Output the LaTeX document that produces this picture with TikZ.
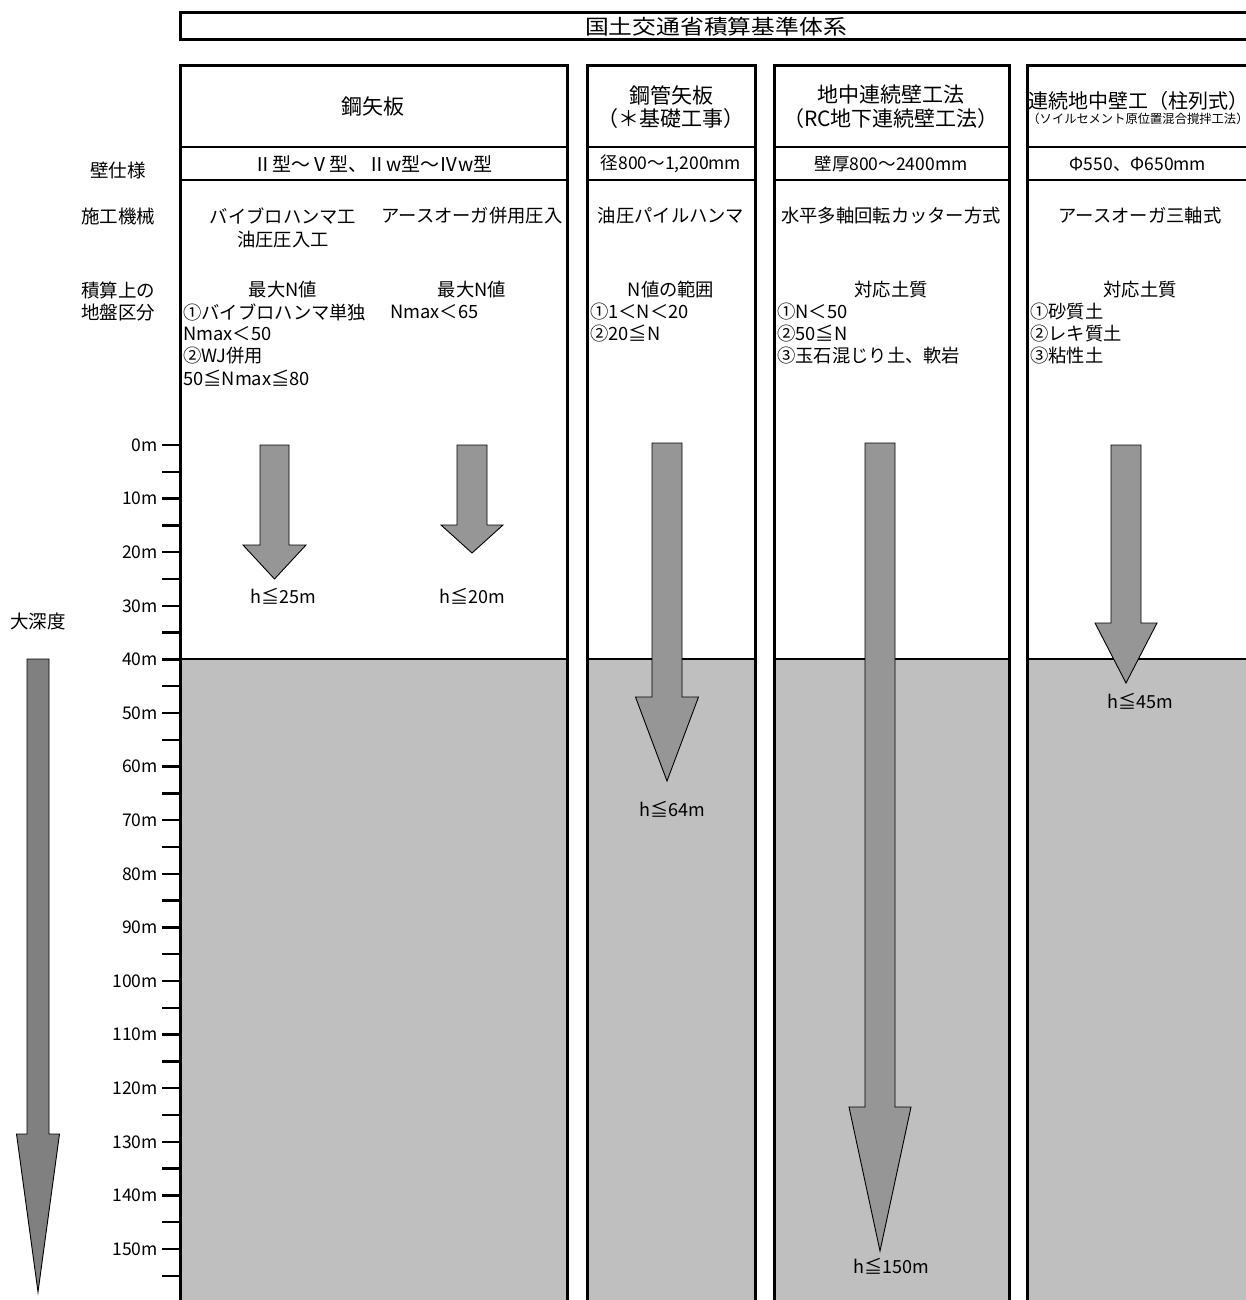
\documentclass[tikz,border=0pt]{standalone}
\usepackage{fontspec}
\usepackage{graphicx}
\setmainfont{Noto Sans CJK JP}
\begin{document}
\begin{tikzpicture}[x=1pt,y=-1pt,
  frame/.style={draw=black,line width=3pt},
  divider/.style={draw=black,line width=2.5pt},
  soil/.style={fill=black!25},
  arr/.style={fill=black!41,draw=black,line width=0.9pt,line join=miter},
  bigarr/.style={fill=black!50,draw=black,line width=0.9pt,line join=miter},
  hdr/.style={inner sep=0pt,font=\fontsize{21}{25}\selectfont},
  sub/.style={inner sep=0pt,font=\fontsize{12.3}{14}\selectfont},
  spec/.style={inner sep=0pt,font=\fontsize{17.5}{21}\selectfont},
  rowlbl/.style={inner sep=0pt,font=\fontsize{18.5}{22}\selectfont},
  body/.style={inner sep=0pt,font=\fontsize{18.3}{22}\selectfont},
  bodyl/.style={body,anchor=west},
  hlab/.style={inner sep=0pt,font=\fontsize{18}{21}\selectfont},
  dep/.style={inner sep=0pt,anchor=east,font=\fontsize{17.5}{20}\selectfont},
  tick/.style={draw=black,line width=2.5pt}]
\useasboundingbox (0,0) rectangle (1246,1300);
\begin{scope}
\clip (0,0) rectangle (1246,1300);
% soil below 40 m
\fill[soil] (180,659) rectangle (567,1310);
\fill[soil] (587,659) rectangle (755,1310);
\fill[soil] (774,659) rectangle (1009,1310);
\fill[soil] (1027,659) rectangle (1260,1310);
% 40 m line
\draw[divider] (180,659) -- (567,659);
\draw[divider] (587,659) -- (755,659);
\draw[divider] (774,659) -- (1009,659);
\draw[divider] (1027,659) -- (1260,659);
% title box
\draw[frame] (180,13) rectangle (1270,40);
\node[inner sep=0pt,font=\fontsize{20.5}{24}\selectfont] (title) at (716,27) {\scalebox{1.16}[1]{国土交通省積算基準体系}};
% columns
\draw[frame] (180,1320) -- (180,66) -- (567,66) -- (567,1320);
\draw[frame] (587,1320) -- (587,66) -- (755,66) -- (755,1320);
\draw[frame] (774,1320) -- (774,66) -- (1009,66) -- (1009,1320);
\draw[frame] (1027,1320) -- (1027,66) -- (1270,66);
\foreach \a/\b in {180/567,587/755,774/1009,1027/1270}{
  \draw[divider] (\a,147) -- (\b,147);
  \draw[divider] (\a,180) -- (\b,180);
}
% depth scale ticks
\foreach \k in {0,...,31}{
  \draw[tick] (162,445+\k*26.8) -- (180,445+\k*26.8);
}
\foreach \d [count=\i from 0] in {0,10,20,30,40,50,60,70,80,90,100,110,120,130,140,150}{
  \node[dep] (d\i) at (158,445+\i*53.6) {\d m};
}
% arrows
\newcommand\colarrow[8]{% name, cx, top, shaft half, head y, head half, tip, style
  \draw[#8] (#2-#4,#3) -- (#2+#4,#3) -- (#2+#4,#5) -- (#2+#6,#5) -- (#2,#7)
     -- (#2-#6,#5) -- (#2-#4,#5) -- cycle;
  \coordinate (#1) at (#2,#7);}
\colarrow{a1}{274.5}{445}{14.5}{545}{31.5}{579}{arr}
\colarrow{a2}{472}{445}{15}{525}{31}{553}{arr}
\colarrow{a3}{667}{443}{15}{697}{31.5}{781}{arr}
\colarrow{a4}{880}{443}{15}{1107}{31}{1251}{arr}
\colarrow{a5}{1126}{445}{15}{623}{31}{683}{arr}
\colarrow{a6}{38}{659}{11}{1134}{21.5}{1292}{bigarr}
\end{scope}
% depth-limit labels
\node[hlab] (h1) at (283,596) {h≦25m};
\node[hlab] (h2) at (472,596) {h≦20m};
\node[hlab] (h3) at (672,809) {h≦64m};
\node[hlab] (h4) at (891,1266) {h≦150m};
\node[hlab] (h5) at (1140,701) {h≦45m};
\node[rowlbl] (deep) at (38,621) {大深度};
% row labels
\node[rowlbl] (r1) at (118,170) {壁仕様};
\node[rowlbl] (r2) at (118,216) {施工機械};
\node[rowlbl] (r3) at (118,290) {積算上の};
\node[rowlbl] (r4) at (118,312) {地盤区分};
% headers
\node[hdr] (c1h) at (373,106) {鋼矢板};
\node[hdr] (c2h1) at (671,95) {鋼管矢板};
\node[hdr] (c2h2) at (671,119) {（＊基礎工事）};
\node[hdr] (c3h1) at (891,95) {地中連続壁工法};
\node[hdr] (c3h2) at (891,119) {（RC地下連続壁工法）};
\node[hdr,font=\fontsize{20}{24}\selectfont] (c4h1) at (1138,101) {連続地中壁工（柱列式）};
\node[sub] (c4h2) at (1138,119) {（ソイルセメント原位置混合撹拌工法）};
% specs
\node[spec,font=\fontsize{19}{22}\selectfont] (s1) at (373,164) {Ⅱ型～Ⅴ型、Ⅱw型～Ⅳw型};
\node[spec] (s2) at (671,164) {径800～1,200mm};
\node[spec] (s3) at (891,164) {壁厚800～2400mm};
\node[spec] (s4) at (1138,164) {Φ550、Φ650mm};
% machines
\node[body] (m1a) at (283,216) {バイブロハンマ工};
\node[body] (m1b) at (283,240) {油圧圧入工};
\node[body] (m2) at (472,216) {アースオーガ併用圧入};
\node[body] (m3) at (671,216) {油圧パイルハンマ};
\node[body] (m4) at (891,216) {水平多軸回転カッター方式};
\node[body] (m5) at (1140,216) {アースオーガ三軸式};
% ground classes
\node[body] (g1) at (283,290) {最大N値};
\node[bodyl] (g1a) at (183,312) {①バイブロハンマ単独};
\node[bodyl] (g1b) at (183,334) {Nmax＜50};
\node[bodyl] (g1c) at (183,356) {②WJ併用};
\node[bodyl] (g1d) at (183,378) {50≦Nmax≦80};
\node[body] (g2) at (472,290) {最大N値};
\node[bodyl] (g2a) at (390,312) {Nmax＜65};
\node[body] (g3) at (671,290) {N値の範囲};
\node[bodyl] (g3a) at (590,312) {①1＜N＜20};
\node[bodyl] (g3b) at (590,334) {②20≦N};
\node[body] (g4) at (891,290) {対応土質};
\node[bodyl] (g4a) at (777,312) {①N＜50};
\node[bodyl] (g4b) at (777,334) {②50≦N};
\node[bodyl] (g4c) at (777,356) {③玉石混じり土、軟岩};
\node[body] (g5) at (1140,290) {対応土質};
\node[bodyl] (g5a) at (1030,312) {①砂質土};
\node[bodyl] (g5b) at (1030,334) {②レキ質土};
\node[bodyl] (g5c) at (1030,356) {③粘性土};
\end{tikzpicture}
\end{document}
